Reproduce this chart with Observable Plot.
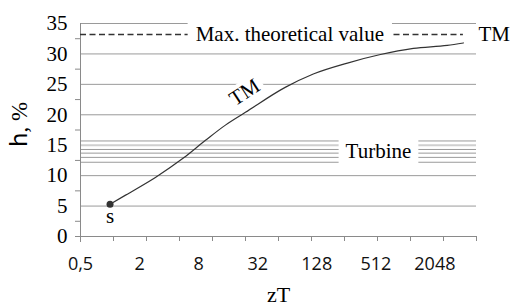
<!DOCTYPE html>
<html><head><meta charset="utf-8">
<script src="https://cdn.jsdelivr.net/npm/d3@7"></script>
<script src="https://cdn.jsdelivr.net/npm/@observablehq/plot@0.6"></script>
<style>body{margin:0;background:#fff;} svg{display:block}</style>
</head><body>
<script>
// Data
const zT = [1, 1.44, 2.9, 5.5, 9.4, 15, 24, 61, 118, 263, 571, 1237, 2740, 4000];
const efficiency = [5.3, 6.8, 9.7, 12.8, 15.8, 18.3, 20.4, 24.5, 26.7, 28.5, 29.9, 30.9, 31.4, 31.8];
const maxTheoretical = 33.2;
const turbineValues = [15.7, 14.3, 13.7, 13.0, 12.2];
const gridValues = [5, 10, 20, 25, 30, 35];
const gridLight = [15];
const yTickValues = [0, 5, 10, 15, 20, 25, 30, 35];
const yMinorTicks = [2.5, 7.5, 12.5, 17.5, 22.5, 27.5, 32.5];
const xTickLabels = [0.5, 2, 8, 32, 128, 512, 2048];
const xDomain = [0.5, 5440];
const yDomain = [0, 35];
const annotations = [
  {label: "Max. theoretical value", x: 68, y: maxTheoretical},
  {label: "Turbine", x: 545, y: (turbineValues[0] + turbineValues[turbineValues.length - 1]) / 2}
];
const curveLabel = {label: "TM", x: 24, y: 20.4};
const startLabel = "s";

const curve = zT.map((x, i) => ({x, y: efficiency[i]}));
const lo = Math.log2(xDomain[0]), hi = Math.log2(xDomain[1]);
const xMinorTicks = d3.range(13).map(i => Math.min(xDomain[1], Math.max(xDomain[0], 2 ** (lo + i * (hi - lo) / 12))));

const serif = "Liberation Serif";
const gridColor = "#9a9a9a";
const axisColor = "#8a8a8a";

const chart = Plot.plot({
  width: 512, height: 308,
  marginTop: 23, marginBottom: 72, marginLeft: 80, marginRight: 36,
  style: {background: "#fff", color: "#000", overflow: "visible"},
  x: {type: "log", base: 2, domain: xDomain},
  y: {domain: yDomain},
  marks: [
    Plot.ruleY(gridValues, {stroke: gridColor, strokeWidth: 1}),
    Plot.ruleY(gridLight, {stroke: "#cfcfcf", strokeWidth: 2}),
    Plot.ruleY(turbineValues, {stroke: gridColor, strokeWidth: 1}),
    Plot.ruleY([0], {stroke: axisColor, insetLeft: -5}),
    Plot.ruleX([xDomain[0]], {stroke: axisColor, insetBottom: -6}),
    Plot.axisY(yMinorTicks, {tickSize: 5, tickFormat: () => "", stroke: axisColor, label: null}),
    Plot.axisY(yTickValues, {tickSize: 0, tickPadding: 13, fontSize: 21, fontFamily: serif, fill: "#000", label: null}),
    Plot.axisX(xMinorTicks, {tickSize: 5, tickFormat: () => "", stroke: axisColor, label: null}),
    Plot.axisX(xTickLabels, {tickSize: 0, tickPadding: 21, fontSize: 18, fontFamily: "Open Sans", fill: "#111",
      tickFormat: d => String(d).replace(".", ","), label: null}),
    Plot.ruleY([{y: maxTheoretical, x1: xDomain[0], x2: zT[zT.length - 1]}],
      {y: "y", x1: "x1", x2: "x2", stroke: "#333", strokeWidth: 1.5, strokeDasharray: "6,3.5"}),
    Plot.text(annotations, {x: "x", y: "y", text: "label", fontSize: 21, fontFamily: serif, fill: "#000"}),
    Plot.text([curveLabel], {x: "x", y: "y", text: "label", dx: -1, dy: -20, rotate: -33, fontSize: 21, fontFamily: serif, fill: "#000"}),
    Plot.line(curve, {x: "x", y: "y", stroke: "#333", strokeWidth: 1.2, curve: "monotone-x"}),
    Plot.dot([curve[0]], {x: "x", y: "y", r: 3.5, fill: "#333"}),
    Plot.text([curve[0]], {x: "x", y: "y", text: () => startLabel, dy: 12, fontSize: 21, fontFamily: serif, fill: "#000"}),
    Plot.text([{label: "TM", x: xDomain[1], y: maxTheoretical}], {x: "x", y: "y", text: "label", textAnchor: "start", dx: 2, fontSize: 21, fontFamily: serif, fill: "#000"}),
    Plot.text(["zT"], {frameAnchor: "bottom", dy: 65, text: d => d, fontSize: 22, fontFamily: serif, fill: "#000"}),
    Plot.text(["h, %"], {frameAnchor: "left", dx: -61, dy: 17, rotate: -90, text: d => d, fontSize: 23, fontFamily: serif, fill: "#000"})
  ]
});
document.body.append(chart);

// white boxes behind some labels (as in the reference)
const texts = Array.from(chart.querySelectorAll("text"));
const boxed = [
  {text: annotations[0].label, px: 8, py: 1, rotated: false},
  {text: annotations[1].label, px: 7, py: 0, rotated: false},
  {text: curveLabel.label, px: 4, py: -1, rotated: true}
];
for (const b of boxed) {
  texts.filter(t => t.textContent === b.text && (!!(t.getAttribute("transform") || "").includes("rotate")) === b.rotated)
    .forEach(t => {
      const bb = t.getBBox();
      const r = document.createElementNS("http://www.w3.org/2000/svg", "rect");
      r.setAttribute("x", bb.x - b.px);
      r.setAttribute("y", bb.y - b.py);
      r.setAttribute("width", bb.width + 2 * b.px);
      r.setAttribute("height", bb.height + 2 * b.py);
      r.setAttribute("fill", "#fff");
      const tr = t.getAttribute("transform");
      if (tr) r.setAttribute("transform", tr);
      t.parentNode.insertBefore(r, t);
    });
}
// y label: sans "h", serif ", %"
texts.filter(t => t.textContent === "h, %").forEach(t => {
  t.textContent = "";
  const a = document.createElementNS("http://www.w3.org/2000/svg", "tspan");
  a.setAttribute("font-family", "DejaVu Sans");
  a.textContent = "h";
  const b = document.createElementNS("http://www.w3.org/2000/svg", "tspan");
  b.textContent = ", %";
  t.append(a, b);
});
</script>
</body></html>
